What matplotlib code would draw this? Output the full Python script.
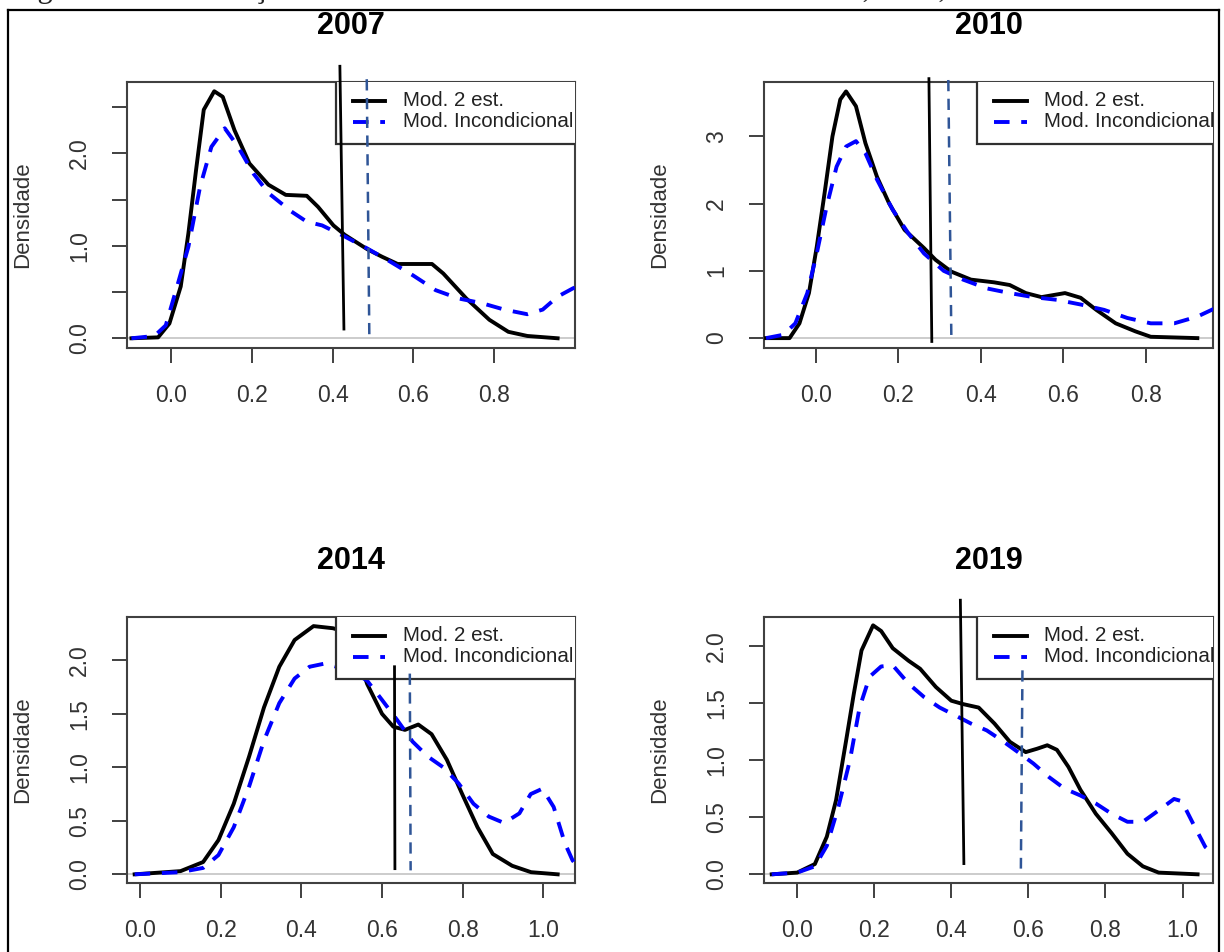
import matplotlib
matplotlib.use('Agg')
import matplotlib.pyplot as plt
from matplotlib.lines import Line2D
from matplotlib.patches import Rectangle

plt.rcParams['font.family'] = ['Liberation Sans', 'DejaVu Sans']

# valores (densidades estimadas)
titles = ['2007', '2010', '2014', '2019']
legend_labels = ['Mod. 2 est.', 'Mod. Incondicional']
caption = 'Figura 3 – Distribuição de densidade dos escores de eficiência – 2007, 2010, 2014 e 2019'

x07_m2 = [-0.098, -0.032, -0.004, 0.024, 0.043, 0.062, 0.081, 0.107, 0.128, 0.157, 0.194, 0.241, 0.284,
          0.336, 0.364, 0.402, 0.43, 0.486, 0.523, 0.561, 0.646, 0.674, 0.731, 0.788, 0.835, 0.882, 0.957]
y07_m2 = [0, 0.01, 0.16, 0.56, 1.135, 1.82, 2.47, 2.67, 2.61, 2.25, 1.89, 1.66, 1.55,
          1.54, 1.42, 1.22, 1.118, 0.962, 0.88, 0.803, 0.803, 0.70, 0.43, 0.2, 0.07, 0.025, 0.0]
x07_inc = [-0.098, -0.041, -0.013, 0.015, 0.043, 0.072, 0.1, 0.133, 0.166, 0.204, 0.241, 0.298, 0.336, 0.374,
           0.43, 0.486, 0.542, 0.599, 0.655, 0.712, 0.769, 0.825, 0.882, 0.92, 0.957, 0.995, 1.03]
y07_inc = [0, 0.025, 0.14, 0.56, 0.99, 1.64, 2.07, 2.27, 2.07, 1.78, 1.57, 1.37, 1.26, 1.22,
           1.1, 0.97, 0.83, 0.68, 0.52, 0.43, 0.38, 0.31, 0.26, 0.31, 0.45, 0.54, 0.6]

x10_m2 = [-0.121, -0.064, -0.04, -0.017, 0.002, 0.021, 0.04, 0.059, 0.073, 0.097, 0.12, 0.148, 0.177, 0.215,
          0.262, 0.29, 0.328, 0.376, 0.432, 0.47, 0.509, 0.547, 0.604, 0.642, 0.68, 0.727, 0.775, 0.812, 0.925]
y10_m2 = [0, 0.0, 0.22, 0.67, 1.36, 2.16, 3.0, 3.55, 3.67, 3.45, 2.9, 2.4, 2.01, 1.61,
          1.34, 1.165, 0.99, 0.87, 0.83, 0.79, 0.67, 0.61, 0.67, 0.6, 0.42, 0.22, 0.1, 0.02, 0.0]
x10_inc = [-0.121, -0.079, -0.05, -0.021, 0.002, 0.026, 0.05, 0.073, 0.097, 0.12, 0.148, 0.186, 0.224, 0.262,
           0.31, 0.357, 0.414, 0.47, 0.527, 0.584, 0.642, 0.699, 0.755, 0.812, 0.869, 0.925, 0.97]
y10_inc = [0, 0.05, 0.22, 0.67, 1.26, 1.96, 2.55, 2.85, 2.93, 2.75, 2.36, 1.91, 1.56, 1.26,
           1.0, 0.87, 0.74, 0.67, 0.61, 0.57, 0.5, 0.42, 0.3, 0.22, 0.22, 0.32, 0.45]

x14_m2 = [-0.014, 0.1, 0.156, 0.194, 0.232, 0.27, 0.307, 0.345, 0.383, 0.43, 0.478, 0.506, 0.535, 0.563,
          0.6, 0.628, 0.657, 0.69, 0.723, 0.761, 0.799, 0.837, 0.875, 0.923, 0.97, 1.036]
y14_m2 = [0, 0.03, 0.115, 0.32, 0.66, 1.10, 1.56, 1.94, 2.19, 2.32, 2.30, 2.27, 2.1, 1.78,
          1.50, 1.38, 1.35, 1.40, 1.31, 1.07, 0.75, 0.44, 0.19, 0.08, 0.02, 0.0]
x14_inc = [-0.014, 0.099, 0.156, 0.194, 0.232, 0.27, 0.307, 0.345, 0.383, 0.42, 0.458, 0.487, 0.525, 0.563,
           0.6, 0.638, 0.676, 0.714, 0.752, 0.79, 0.827, 0.865, 0.903, 0.941, 0.969, 0.998, 1.026, 1.054,
           1.073, 1.09]
y14_inc = [0, 0.02, 0.06, 0.18, 0.44, 0.82, 1.25, 1.60, 1.83, 1.94, 1.97, 1.94, 1.9, 1.81,
           1.63, 1.44, 1.24, 1.1, 1.0, 0.85, 0.66, 0.54, 0.48, 0.57, 0.75, 0.80, 0.63, 0.29,
           0.13, 0.05]

x19_m2 = [-0.066, 0.0, 0.046, 0.077, 0.101, 0.127, 0.147, 0.167, 0.197, 0.218, 0.248, 0.289, 0.319, 0.36,
          0.4, 0.431, 0.471, 0.512, 0.552, 0.593, 0.623, 0.649, 0.674, 0.704, 0.735, 0.775, 0.816, 0.857,
          0.897, 0.938, 1.039]
y19_m2 = [0, 0.015, 0.09, 0.33, 0.65, 1.17, 1.58, 1.96, 2.18, 2.13, 1.98, 1.87, 1.80, 1.64,
          1.52, 1.49, 1.46, 1.32, 1.16, 1.07, 1.1, 1.13, 1.09, 0.94, 0.74, 0.53, 0.36, 0.18,
          0.07, 0.015, 0.0]
x19_inc = [-0.066, 0.0, 0.046, 0.077, 0.107, 0.137, 0.162, 0.188, 0.218, 0.248, 0.289, 0.33, 0.37, 0.411,
           0.451, 0.492, 0.532, 0.573, 0.613, 0.654, 0.694, 0.735, 0.775, 0.816, 0.857, 0.897, 0.938,
           0.978, 0.998, 1.028, 1.059, 1.079]
y19_inc = [0, 0.015, 0.07, 0.25, 0.59, 1.0, 1.46, 1.73, 1.82, 1.83, 1.67, 1.55, 1.46, 1.39,
           1.32, 1.26, 1.17, 1.07, 0.97, 0.85, 0.75, 0.69, 0.62, 0.53, 0.46, 0.46, 0.56,
           0.66, 0.64, 0.44, 0.24, 0.18]

# linhas verticais (médias) desenhadas por cima: (x_topo, y_topo, x_base, y_base)
mean_m2 = [(0.418, 2.94, 0.428, 0.10), (0.274, 3.86, 0.281, -0.05),
           (0.631, 1.94, 0.632, 0.053), (0.4235, 2.40, 0.4326, 0.094)]
mean_inc = [(0.4845, 2.80, 0.491, -0.037), (0.321, 3.84, 0.3285, -0.05),
            (0.669, 1.876, 0.671, 0.037), (0.5846, 1.786, 0.5805, 0.05)]

xs_m2 = [x07_m2, x10_m2, x14_m2, x19_m2]
ys_m2 = [y07_m2, y10_m2, y14_m2, y19_m2]
xs_inc = [x07_inc, x10_inc, x14_inc, x19_inc]
ys_inc = [y07_inc, y10_inc, y14_inc, y19_inc]

W, H = 1224, 952
fig = plt.figure(figsize=(W / 100, H / 100), dpi=100)

# caixas dos paineis em pixels (esq, topo, dir, base)
boxes = [(127, 82, 575, 348), (764, 82, 1213, 348),
         (127, 617, 575, 883), (764, 617, 1213, 883)]
xlims = [(-0.109, 1.0), (-0.126, 0.963), (-0.033, 1.079), (-0.086, 1.079)]
ylims = [(-0.105, 2.77), (-0.147, 3.81), (-0.081, 2.405), (-0.076, 2.253)]
xticks = [[0, 0.2, 0.4, 0.6, 0.8], [0, 0.2, 0.4, 0.6, 0.8],
          [0, 0.2, 0.4, 0.6, 0.8, 1.0], [0, 0.2, 0.4, 0.6, 0.8, 1.0]]
yticks = [[0, 0.5, 1.0, 1.5, 2.0, 2.5], [0, 1, 2, 3],
          [0, 0.5, 1.0, 1.5, 2.0], [0, 0.5, 1.0, 1.5, 2.0]]
ylabs = [['0.0', '', '1.0', '', '2.0', ''], ['0', '1', '2', '3'],
         ['0.0', '0.5', '1.0', '1.5', '2.0'], ['0.0', '0.5', '1.0', '1.5', '2.0']]

frame_col = '#404040'
txt_col = '#333333'
annot_blue = '#2F5597'

for i in range(4):
    l, t, r, b = boxes[i]
    ax = fig.add_axes([l / W, 1 - b / H, (r - l) / W, (b - t) / H])
    ax.set_xlim(xlims[i])
    ax.set_ylim(ylims[i])

    ax.axhline(0, color='#c8c8c8', lw=1.3, zorder=1)
    ax.plot(xs_m2[i], ys_m2[i], color='black', lw=2.8, zorder=3, solid_joinstyle='round')
    ax.plot(xs_inc[i], ys_inc[i], color='#0000ff', lw=2.8, dashes=(4, 3), zorder=3)

    for s in ax.spines.values():
        s.set_color(frame_col)
        s.set_linewidth(1.5)
    ax.set_xticks(xticks[i])
    ax.set_xticklabels(['%.1f' % v for v in xticks[i]])
    ax.set_yticks(yticks[i])
    ax.set_yticklabels(ylabs[i], rotation=90, va='center')
    ax.tick_params(length=10.8, width=1.4, color=frame_col, pad=15, labelsize=16.5, labelcolor=txt_col)

    ax.set_ylabel('Densidade', fontsize=16, color=txt_col)
    ax.yaxis.set_label_coords(-0.21, 0.5)
    ax.text(0.5, 1.21, titles[i], transform=ax.transAxes, ha='center', va='center',
            fontsize=22, fontweight='bold')

    # legenda (caixa branca cortada na borda direita, como no original)
    lx = 0.467 if i in (0, 2) else 0.475
    ax.add_patch(Rectangle((lx, 0.767), 0.6, 0.3, transform=ax.transAxes, facecolor='white',
                           edgecolor='#303030', lw=1.6, zorder=5, clip_on=True))
    ax.add_line(Line2D([lx + 0.037, lx + 0.11], [0.93, 0.93], transform=ax.transAxes,
                       color='black', lw=2.8, zorder=6))
    ax.add_line(Line2D([lx + 0.037, lx + 0.11], [0.851, 0.851], transform=ax.transAxes,
                       color='#0000ff', lw=2.8, dashes=(4, 3), zorder=6))
    for k, yy in enumerate([0.93, 0.851]):
        ax.text(lx + 0.148, yy, legend_labels[k], transform=ax.transAxes, fontsize=14.8,
                va='center', ha='left', color='#222222', zorder=6, clip_on=True)

    # linhas das médias (sobrepostas, fora do recorte)
    x0, y0, x1, y1 = mean_m2[i]
    ax.plot([x0, x1], [y0, y1], color='black', lw=2.0, zorder=8, clip_on=False)
    x0, y0, x1, y1 = mean_inc[i]
    ax.plot([x0, x1], [y0, y1], color=annot_blue, lw=1.8, dashes=(4.5, 3), zorder=8, clip_on=False)

# moldura externa e legenda da figura (cortada no topo)
fig.add_artist(Line2D([8 / W, 8 / W], [0, 1 - 10 / H], transform=fig.transFigure, color='black', lw=1.6))
fig.add_artist(Line2D([8 / W, 1219 / W], [1 - 10 / H, 1 - 10 / H], transform=fig.transFigure,
                      color='black', lw=1.6))
fig.add_artist(Line2D([1219 / W, 1219 / W], [0, 1 - 10 / H], transform=fig.transFigure, color='black', lw=1.6))
fig.text(12 / W, 1 + 2.5 / H, caption, fontsize=22, family=['Liberation Serif', 'DejaVu Serif'],
         va='baseline', ha='left', color='#222222')

fig.savefig('out.png', dpi=100)
